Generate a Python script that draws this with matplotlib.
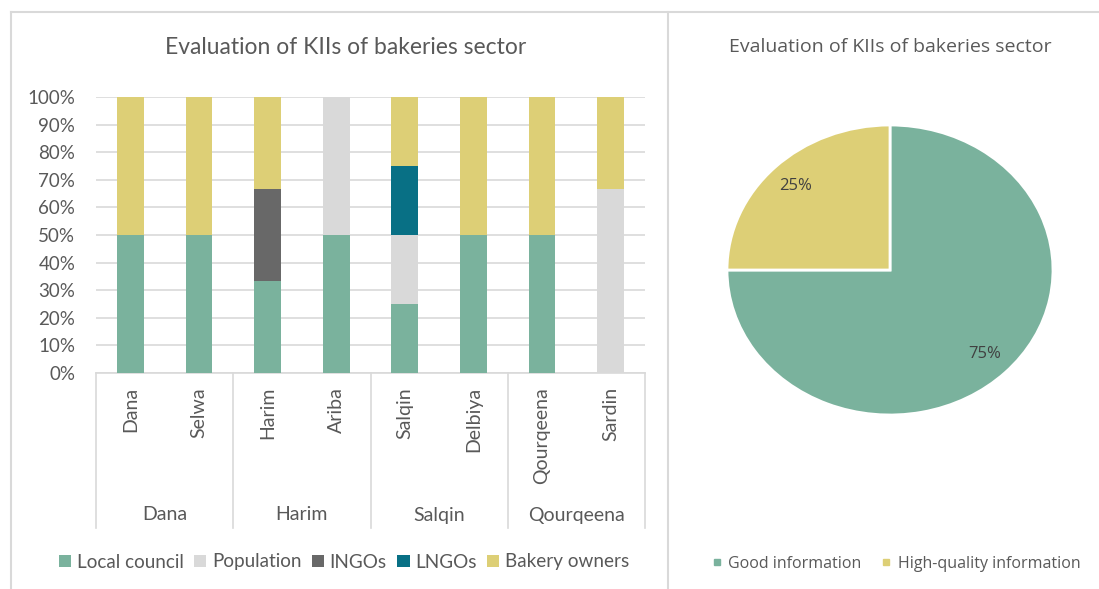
import matplotlib.pyplot as plt
from matplotlib.patches import Patch
from matplotlib.lines import Line2D
import matplotlib.ticker as ticker

# data
villages = ['Dana', 'Selwa', 'Harim', 'Ariba', 'Salqin', 'Delbiya', 'Qourqeena', 'Sardin']
districts = ['Dana', 'Harim', 'Salqin', 'Qourqeena']
local_council = [50, 50, 33.3, 50, 25, 50, 50, 0]
population = [0, 0, 0, 50, 25, 0, 0, 66.7]
ingos = [0, 0, 33.3, 0, 0, 0, 0, 0]
lngos = [0, 0, 0, 0, 25, 0, 0, 0]
bakery_owners = [50, 50, 33.4, 0, 25, 50, 50, 33.3]

pie_labels = ['Good information', 'High-quality information']
pie_values = [75, 25]

GREEN = '#7AB29D'
LIGHT = '#D9D9D9'
DARK = '#686868'
TEAL = '#087085'
YELLOW = '#DDCF76'
TXT = '#595959'

W, H = 1099, 589
fig = plt.figure(figsize=(W / 100, H / 100), dpi=100)

# helper: pixel box -> figure fraction
def box(x0, y0, x1, y1):
    return [x0 / W, 1 - y1 / H, (x1 - x0) / W, (y1 - y0) / H]

# chart borders like the excel frames
fig.add_artist(Line2D([11 / W, 11 / W], [0, 1 - 12 / H], color=LIGHT, lw=1.5))
fig.add_artist(Line2D([11 / W, 1], [1 - 12 / H, 1 - 12 / H], color=LIGHT, lw=1.5))
fig.add_artist(Line2D([668 / W, 668 / W], [0, 1 - 12 / H], color=LIGHT, lw=1.5))

# ---- left: 100% stacked bars ----
ax = fig.add_axes(box(96, 97, 645, 373))
series = [('Local council', local_council, GREEN),
          ('Population', population, LIGHT),
          ('INGOs', ingos, DARK),
          ('LNGOs', lngos, TEAL),
          ('Bakery owners', bakery_owners, YELLOW)]
x = list(range(len(villages)))
bottom = [0] * len(villages)
for name, vals, col in series:
    ax.bar(x, vals, bottom=bottom, width=0.39, color=col, zorder=3)
    bottom = [b + v for b, v in zip(bottom, vals)]

ax.set_xlim(-0.5, len(villages) - 0.5)
ax.set_ylim(0, 100)
ax.yaxis.set_major_locator(ticker.MultipleLocator(10))
ax.yaxis.set_major_formatter(ticker.FuncFormatter(lambda v, p: f'{v:.0f}%'))
ax.grid(axis='y', color=LIGHT, lw=1.2, zorder=0)
for s in ['top', 'right', 'left']:
    ax.spines[s].set_visible(False)
ax.spines['bottom'].set_color(LIGHT)
ax.spines['bottom'].set_linewidth(1.2)
ax.tick_params(axis='y', length=0, labelsize=13.5, labelcolor=TXT, pad=15)
ax.set_xticks(x)
ax.set_xticklabels(villages, rotation=90, va='top', ha='center')
ax.tick_params(axis='x', length=0, labelsize=14, labelcolor=TXT, pad=10)
for lab in ax.get_yticklabels() + ax.get_xticklabels():
    lab.set_family('Lato')

# category separators and group labels
sep_y = -(528 - 373) / 276
trans = ax.get_xaxis_transform()
for k in range(len(districts) + 1):
    xs = 2 * k - 0.5
    ax.add_line(Line2D([xs, xs], [0, sep_y], transform=trans, color=LIGHT, lw=1.2, clip_on=False))
for k, d in enumerate(districts):
    ax.text(2 * k + 0.5, -(515 - 373) / 276, d, transform=trans, ha='center', va='center',
            fontsize=14, color=TXT, family='Lato')

fig.text(346 / W, 1 - 47 / H, 'Evaluation of KIIs of bakeries sector', ha='center', va='center',
         fontsize=16.5, color=TXT, family='Lato')

handles = [Patch(facecolor=c, edgecolor='none', label=n) for n, v, c in series]
fig.legend(handles=handles, loc='center', bbox_to_anchor=(344 / W, 1 - 562 / H), ncol=5,
           frameon=False, prop={'family': 'Lato', 'size': 13.6}, labelcolor=TXT,
           handlelength=0.65, handleheight=0.65, handletextpad=0.3, columnspacing=0.55)

# ---- right: pie ----
pax = fig.add_axes(box(727, 125, 1053, 415))
wedges, texts, autotexts = pax.pie(pie_values, colors=[GREEN, YELLOW], startangle=90, counterclock=False,
                                   autopct='%1.0f%%', pctdistance=0.82,
                                   wedgeprops={'edgecolor': 'white', 'linewidth': 2},
                                   textprops={'fontsize': 12, 'color': '#404040', 'family': 'Open Sans'})
pax.set_aspect('auto')
pax.set_xlim(-1, 1)
pax.set_ylim(-1, 1)

fig.text(890 / W, 1 - 47 / H, 'Evaluation of KIIs of bakeries sector', ha='center', va='center',
         fontsize=14, color=TXT, family='Open Sans')

pie_handles = [Line2D([], [], marker='s', ls='', markersize=5, color=c, label=l)
               for l, c in zip(pie_labels, [GREEN, YELLOW])]
fig.legend(handles=pie_handles, loc='center', bbox_to_anchor=(896 / W, 1 - 564 / H), ncol=2,
           frameon=False, prop={'family': 'Open Sans', 'size': 11.5}, labelcolor=TXT,
           handlelength=0.6, handletextpad=0.4, columnspacing=1.3)

fig.savefig('out.png', dpi=100)
